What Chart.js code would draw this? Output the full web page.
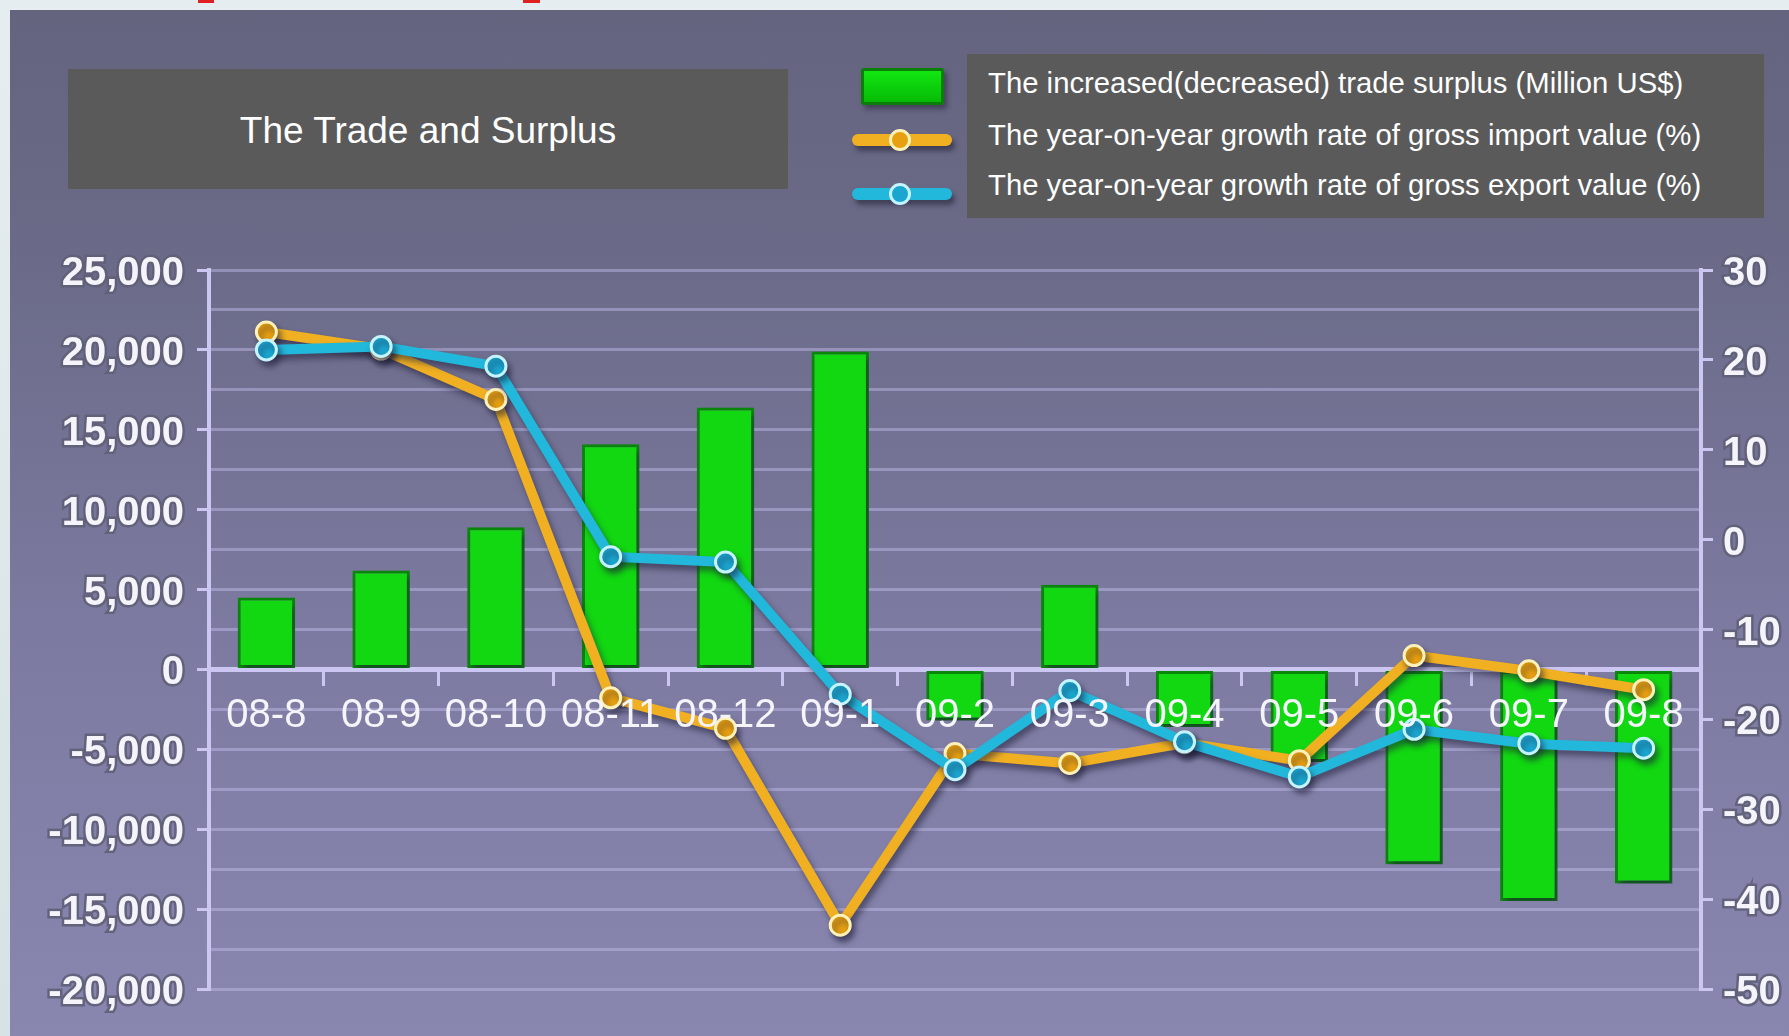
<!DOCTYPE html>
<html>
<head>
<meta charset="utf-8">
<script src="https://cdn.jsdelivr.net/npm/chart.js@4/dist/chart.umd.min.js"></script>
<style>
  body { margin: 0; width: 1789px; height: 1036px; overflow: hidden; background: linear-gradient(#e6edf0, #d6e2e4); font-family: 'Liberation Sans', Arial, sans-serif; }
  .panel { position: absolute; left: 10px; top: 10px; width: 1779px; height: 1026px; background: linear-gradient(#64647f 0%, #6b6b89 25%, #7c7aa0 60%, #8987b0 100%); }
  .mark { position: absolute; top: 0; height: 3px; background: #e02020; }
  .title { position: absolute; left: 68px; top: 69px; width: 720px; height: 120px; background: #5a5a5a; color: #fff; font-size: 37px; line-height: 124px; text-align: center; }
  .legend { position: absolute; left: 967px; top: 54px; width: 797px; height: 164px; background: #5a5a5a; }
  .legend div { position: absolute; left: 21px; color: #fff; font-size: 29.3px; line-height: 34px; white-space: nowrap; }
  .sym-bar { position: absolute; left: 861px; top: 68px; width: 77px; height: 31px; background: linear-gradient(#12e612, #06bb06); border: 3px solid #0a7d0a; border-radius: 3px; box-shadow: 3px 4px 5px rgba(30,30,50,0.5); }
  .sym-line { position: absolute; left: 852px; width: 100px; height: 12px; border-radius: 6px; box-shadow: 3px 5px 5px rgba(30,30,50,0.55); }
  .sym-dot { position: absolute; left: 889px; width: 16px; height: 16px; border-radius: 50%; border-width: 3px; border-style: solid; }
  #wrap { position: absolute; left: 0; top: 0; width: 1789px; height: 1036px; }
</style>
</head>
<body>
<div class="panel"></div>
<div class="mark" style="left:198px;width:16px"></div>
<div class="mark" style="left:523px;width:17px"></div>
<div class="title">The Trade and Surplus</div>
<div class="sym-bar"></div>
<div class="sym-line" style="top:134px;background:#f0b022"></div>
<div class="sym-dot" style="top:129px;background:#e8a010;border-color:#fff2b8"></div>
<div class="sym-line" style="top:188px;background:#22b8dc"></div>
<div class="sym-dot" style="top:183px;background:#1aa6d0;border-color:#c4f4ff"></div>
<div class="legend">
  <div style="top:12px">The increased(decreased) trade surplus (Million US$)</div>
  <div style="top:64px">The year-on-year growth rate of gross import value (%)</div>
  <div style="top:114px">The year-on-year growth rate of gross export value (%)</div>
</div>
<div id="wrap"><canvas id="myChart"></canvas></div>
<script>
const months = ['08-8', '08-9', '08-10', '08-11', '08-12', '09-1', '09-2', '09-3', '09-4', '09-5', '09-6', '09-7', '09-8'];
const surplus = [4500, 6200, 8900, 14100, 16400, 19900, -3200, 5300, -3600, -5800, -12200, -14500, -13400];
const importGrowth = [23.1, 21.2, 15.6, -17.6, -21.0, -42.9, -23.8, -24.9, -22.6, -24.6, -12.9, -14.6, -16.7];
const exportGrowth = [21.1, 21.5, 19.3, -1.9, -2.5, -17.2, -25.6, -16.8, -22.5, -26.4, -21.1, -22.7, -23.2];

const lavender = '#cbc6f2';
const tickFont = { family: 'Liberation Sans', size: 40, weight: 'bold' };

// soft drop shadow under bars and lines
const shadows = {
  id: 'shadows',
  beforeDatasetDraw(chart) {
    const ctx = chart.ctx;
    ctx.save();
    ctx.shadowColor = 'rgba(30,30,55,0.55)';
    ctx.shadowBlur = 6;
    ctx.shadowOffsetX = 3;
    ctx.shadowOffsetY = 5;
  },
  afterDatasetDraw(chart) {
    chart.ctx.restore();
  }
};

let ctx = document.getElementById('myChart').getContext('2d');
new Chart(ctx, {
  data: {
    labels: months,
    datasets: [{
      type: 'line',
      label: 'The year-on-year growth rate of gross export value (%)',
      data: exportGrowth,
      yAxisID: 'y1',
      borderColor: '#22b8dc',
      borderWidth: 10,
      pointRadius: 10,
      pointBorderWidth: 3,
      pointBackgroundColor: '#1aa6d0',
      pointBorderColor: '#c4f4ff',
      order: 1
    }, {
      type: 'line',
      label: 'The year-on-year growth rate of gross import value (%)',
      data: importGrowth,
      yAxisID: 'y1',
      borderColor: '#f0b022',
      borderWidth: 10,
      pointRadius: 10,
      pointBorderWidth: 3,
      pointBackgroundColor: '#e8a010',
      pointBorderColor: '#fff2b8',
      order: 2
    }, {
      type: 'bar',
      label: 'The increased(decreased) trade surplus (Million US$)',
      data: surplus,
      yAxisID: 'y',
      backgroundColor: '#12d812',
      borderColor: '#0a880a',
      borderWidth: 3,
      borderSkipped: false,
      barPercentage: 0.5,
      categoryPercentage: 1,
      order: 3
    }]
  },
  options: {
    responsive: true,
    maintainAspectRatio: false,
    animation: false,
    layout: { padding: { top: 270, bottom: 47, left: 0, right: 0 } },
    plugins: { legend: { display: false }, title: { display: false }, tooltip: { enabled: false } },
    scales: {
      x: {
        position: { y: 0 },
        offset: true,
        grid: { offset: true, drawOnChartArea: false, tickLength: 14, color: lavender, lineWidth: 3 },
        border: { color: lavender, width: 5 },
        ticks: { color: '#f4f4fa', font: { family: 'Liberation Sans', size: 40 }, padding: 9, autoSkip: false, maxRotation: 0, z: 1 }
      },
      y: {
        position: 'left',
        min: -20000,
        max: 25000,
        afterFit(scale) { scale.width = 209; },
        grid: {
          color: 'rgba(195,190,240,0.45)',
          lineWidth: 3,
          tickLength: 12,
          tickColor: (c) => (c.tick && c.tick.value % 5000 === 0) ? lavender : 'rgba(0,0,0,0)'
        },
        border: { color: lavender, width: 4 },
        ticks: {
          stepSize: 2500,
          autoSkip: false,
          padding: 13,
          labelOffset: 4,
          color: '#f4f4fa',
          font: tickFont,
          textStrokeColor: 'rgba(95,95,120,0.9)',
          textStrokeWidth: 5,
          callback: (v) => v % 5000 === 0 ? v.toLocaleString('en-US') : ''
        }
      },
      y1: {
        position: 'right',
        min: -50,
        max: 30,
        afterFit(scale) { scale.width = 88; },
        grid: { drawOnChartArea: false, tickLength: 12, color: lavender, lineWidth: 3 },
        border: { color: lavender, width: 4 },
        ticks: {
          stepSize: 10,
          padding: 10,
          labelOffset: 4,
          color: '#f4f4fa',
          font: tickFont,
          textStrokeColor: 'rgba(95,95,120,0.9)',
          textStrokeWidth: 5
        }
      }
    }
  },
  plugins: [shadows]
});
</script>
</body>
</html>
